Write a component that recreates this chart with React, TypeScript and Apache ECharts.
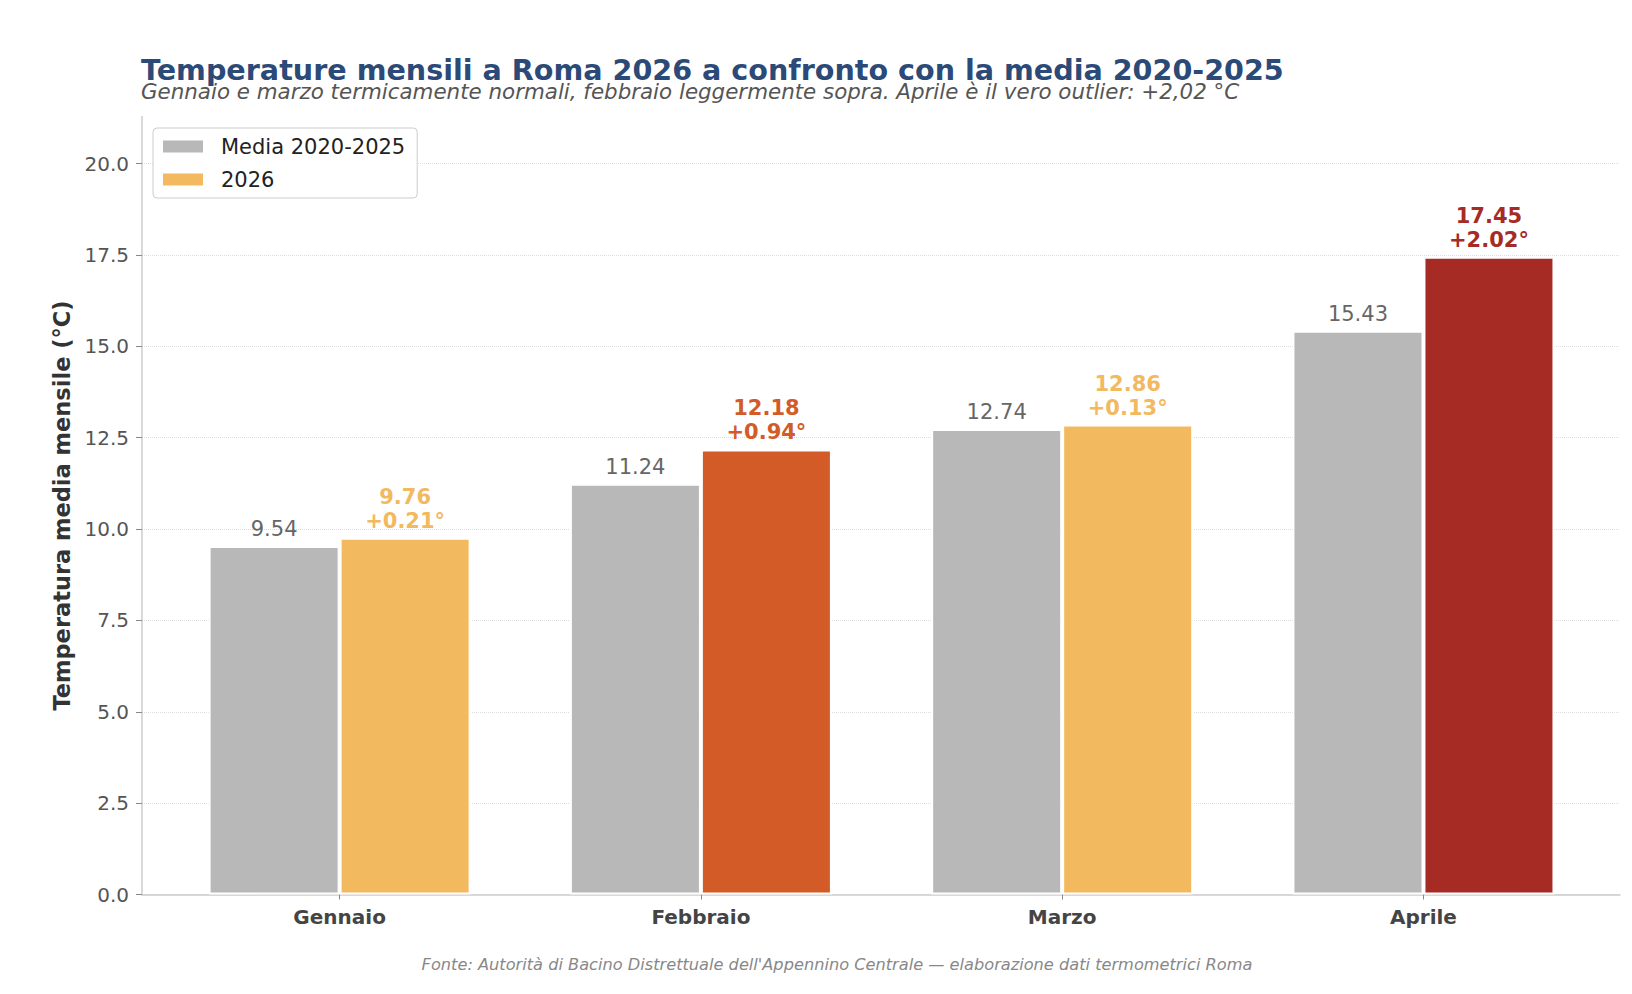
import React, { useEffect, useRef } from "react";
import * as echarts from "echarts";

const months = ["Gennaio", "Febbraio", "Marzo", "Aprile"];
const media = [9.54, 11.24, 12.74, 15.43];
const values2026 = [9.76, 12.18, 12.86, 17.45];
const deltas = [0.21, 0.94, 0.13, 2.02];
const yTicks = [0, 2.5, 5, 7.5, 10, 12.5, 15, 17.5, 20];
const xTicks = [0, 1, 2, 3];

const colors2026 = ["#F2B95F", "#D35B27", "#F2B95F", "#A62B25"];
const FONT = "DejaVu Sans";

export default function App() {
  const ref = useRef<HTMLDivElement>(null);
  useEffect(() => {
    if (!ref.current) return;
    const chart = echarts.init(ref.current, undefined, { renderer: "svg" });
    const option: any = {
      animation: false,
      backgroundColor: "#ffffff",
      textStyle: { fontFamily: FONT },
      title: [
        {
          text: "Temperature mensili a Roma 2026 a confronto con la media 2020-2025",
          left: 141,
          top: 55,
          padding: 0,
          textStyle: { fontFamily: FONT, fontSize: 28.6, fontWeight: "bold", color: "#2c4a78" },
        },
        {
          text: "Gennaio e marzo termicamente normali, febbraio leggermente sopra. Aprile è il vero outlier: +2,02 °C",
          left: 141,
          top: 81,
          padding: 0,
          textStyle: { fontFamily: FONT, fontSize: 21.4, fontWeight: "normal", fontStyle: "italic", color: "#555555" },
        },
      ],
      graphic: [
        {
          type: "text",
          x: 837,
          y: 964,
          style: {
            text: "Fonte: Autorità di Bacino Distrettuale dell'Appennino Centrale — elaborazione dati termometrici Roma",
            font: `italic 16.2px "${FONT}"`,
            fill: "#888888",
            align: "center",
            verticalAlign: "middle",
          },
        },
      ],
      legend: {
        left: 153,
        top: 128,
        orient: "vertical",
        itemWidth: 40,
        itemHeight: 12,
        itemGap: 12,
        padding: [8, 12, 8, 10],
        borderColor: "#cccccc",
        borderWidth: 1,
        borderRadius: 4,
        backgroundColor: "#ffffff",
        icon: "rect",
        itemStyle: { borderWidth: 0 },
        textStyle: { fontFamily: FONT, fontSize: 21, color: "#222222", lineHeight: 21, padding: [0, 0, 0, 13] },
        data: ["Media 2020-2025", "2026"],
      },
      grid: { left: 142, right: 12, top: 116.5, bottom: 99.5, containLabel: false },
      xAxis: {
        type: "value",
        min: -0.547,
        max: 3.544,
        axisLine: { show: true, onZero: false, lineStyle: { color: "#cccccc", width: 1.5 } },
        axisTick: { show: true, length: 5, lineStyle: { color: "#888888" }, customValues: xTicks },
        axisLabel: {
          customValues: xTicks,
          formatter: (v: number) => months[Math.round(v)] ?? "",
          fontFamily: FONT,
          fontSize: 20,
          fontWeight: "bold",
          color: "#444444",
          margin: 12,
        },
        splitLine: { show: false },
      },
      yAxis: {
        type: "value",
        min: 0,
        max: 21.29,
        interval: 2.5,
        name: "Temperatura media mensile (°C)",
        nameLocation: "middle",
        nameGap: 68,
        nameTextStyle: { fontFamily: FONT, fontSize: 22.5, fontWeight: "bold", color: "#333333" },
        axisLine: { show: true, onZero: false, lineStyle: { color: "#cccccc", width: 1.5 } },
        axisTick: { show: true, length: 6, lineStyle: { color: "#888888" }, customValues: yTicks },
        axisLabel: {
          customValues: yTicks,
          formatter: (v: number) => v.toFixed(1),
          fontFamily: FONT,
          fontSize: 20,
          color: "#555555",
          margin: 13,
        },
        splitLine: { show: true, lineStyle: { color: "#dddddd", type: "dotted", width: 1 } },
      },
      series: [
        {
          name: "Media 2020-2025",
          type: "bar",
          barWidth: 131,
          barGap: "0%",
          itemStyle: { color: "#B8B8B8", borderColor: "#ffffff", borderWidth: 2 },
          label: {
            show: true,
            position: "top",
            distance: 6,
            formatter: (p: any) => media[p.dataIndex].toFixed(2),
            fontFamily: FONT,
            fontSize: 21,
            color: "#666666",
          },
          data: media.map((v, i) => [xTicks[i], v]),
        },
        {
          name: "2026",
          type: "bar",
          barWidth: 131,
          barGap: "0%",
          itemStyle: { color: colors2026[0], borderColor: "#ffffff", borderWidth: 2 },
          label: {
            show: true,
            position: "top",
            distance: 5,
            formatter: (p: any) =>
              `${values2026[p.dataIndex].toFixed(2)}\n+${deltas[p.dataIndex].toFixed(2)}°`,
            fontFamily: FONT,
            fontSize: 21,
            fontWeight: "bold",
            lineHeight: 24,
          },
          data: values2026.map((v, i) => ({
            value: [xTicks[i], v],
            itemStyle: { color: colors2026[i] },
            label: { color: colors2026[i] },
          })),
        },
      ],
    };
    chart.setOption(option);
    return () => chart.dispose();
  }, []);
  return (
    <div
      ref={ref}
      style={{ position: "fixed", left: 0, top: 0, width: 1632, height: 994, background: "#fff" }}
    />
  );
}
